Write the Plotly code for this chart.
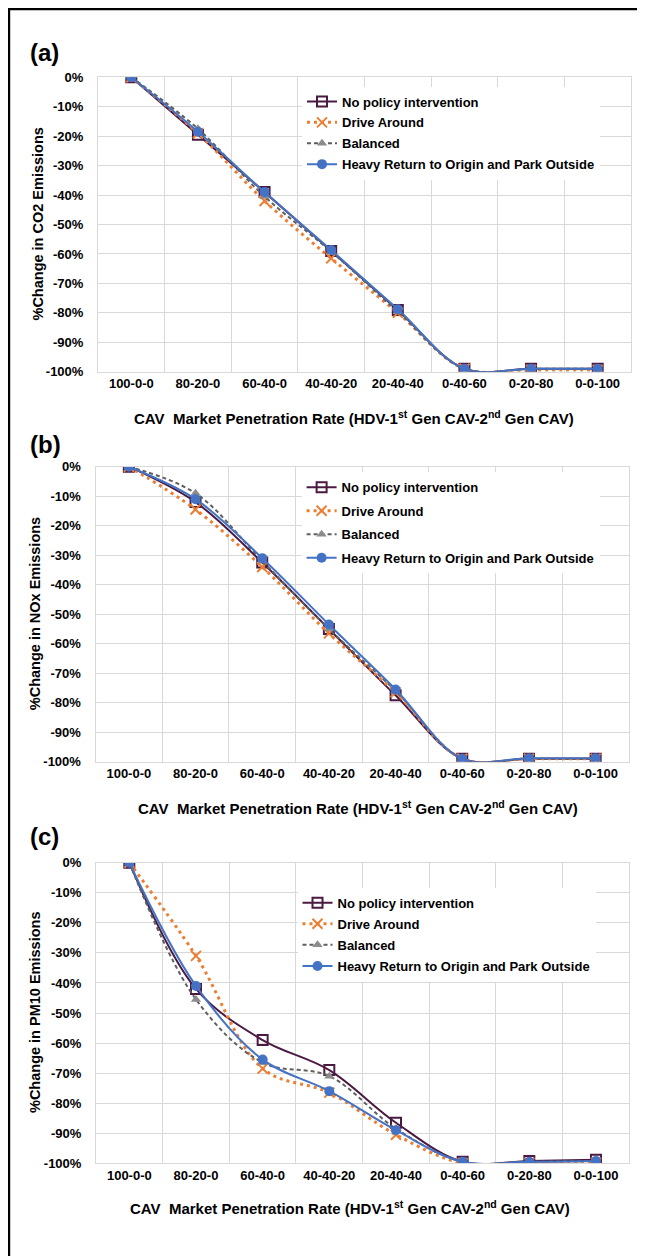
import plotly.graph_objects as go

# The page body has an 8px default margin; screen pixel positions are converted
# to figure coordinates with that offset. The figure runs to the window edges.
OFF = 8
W, H = 645 - OFF, 1256 - OFF
FONT = "Liberation Sans, Arial, sans-serif"

categories = ["100-0-0", "80-20-0", "60-40-0", "40-40-20", "20-40-40", "0-40-60", "0-20-80", "0-0-100"]
series_names = ["No policy intervention", "Drive Around", "Balanced", "Heavy Return to Origin and Park Outside"]

# (a) CO2
co2_no_policy = [0, -19.5, -39, -59, -79, -99, -99, -99]
co2_drive_around = [0, -19, -42, -61.5, -80, -99, -99.4, -99.4]
co2_balanced = [0, -17.5, -40.5, -59.2, -79.6, -99, -99, -99]
co2_heavy_return = [0, -18.5, -39, -58.7, -78.8, -99, -99, -99]

# (b) NOx
nox_no_policy = [0, -12, -32.5, -55, -77.5, -99, -99, -99]
nox_drive_around = [0, -14.5, -34, -56.5, -76.5, -99, -99, -99]
nox_balanced = [0, -9, -32, -55, -76, -99, -99, -99]
nox_heavy_return = [0, -11, -31, -53.5, -75.5, -99, -98.8, -98.8]

# (c) PM10
pm10_no_policy = [0, -42, -59, -69, -86.5, -99.5, -99.2, -98.8]
pm10_drive_around = [0, -31, -68.5, -76.5, -90.5, -100, -99.8, -99.8]
pm10_balanced = [0, -45.5, -66.5, -71, -88.5, -99.5, -99.5, -99.2]
pm10_heavy_return = [0, -41, -65.5, -76, -89, -99.5, -99.5, -99.2]

y_tick_vals = [0, -10, -20, -30, -40, -50, -60, -70, -80, -90, -100]
y_tick_text = ["0%", "-10%", "-20%", "-30%", "-40%", "-50%", "-60%", "-70%", "-80%", "-90%", "-100%"]

panel_labels = ["(a)", "(b)", "(c)"]
y_titles = ["%Change in CO2 Emissions", "%Change in NOx Emissions", "%Change in PM10 Emissions"]
x_title = "CAV\u00a0\u00a0Market Penetration Rate (HDV-1<sup>st</sup> Gen CAV-2<sup>nd</sup> Gen CAV)"

panels = [
    [co2_no_policy, co2_drive_around, co2_balanced, co2_heavy_return],
    [nox_no_policy, nox_drive_around, nox_balanced, nox_heavy_return],
    [pm10_no_policy, pm10_drive_around, pm10_balanced, pm10_heavy_return],
]

styles = [
    dict(line=dict(color="#4B1A42", width=2), marker=dict(symbol="square-open", size=10, color="#4B1A42", line=dict(width=2))),
    dict(line=dict(color="#ED7D31", width=3, dash="3px,4px"), marker=dict(symbol="x-thin", size=10, color="#ED7D31", line=dict(width=2, color="#ED7D31"))),
    dict(line=dict(color="#5F5F5F", width=2, dash="4px,3px"), marker=dict(symbol="triangle-up", size=9, color="#8C8C8C")),
    dict(line=dict(color="#4472C4", width=2), marker=dict(symbol="circle", size=10, color="#4472C4")),
]


def fx(px):
    return (px - OFF) / W


def fy(py):
    return 1 - (py - OFF) / H


# screen-pixel geometry: (left, right, top, bottom) of each plot area
geo = [(98, 631, 77.3, 371.7), (95.5, 629, 466.7, 761.7), (96, 629.3, 862.7, 1163.3)]
legend_pos = [(302, 86.5, 1), (301.6, 472.3, 3.6), (297.5, 887.7, 1.2)]
ytitle_x = [37, 35, 35]
xtitle_pos = [(354, 417.7), (358, 807.7), (350, 1207.7)]
label_pos = [(28, 53), (28, 444), (28, 836)]

fig = go.Figure()
legend_keys = ["legend", "legend2", "legend3"]

for p in range(3):
    xa = "x" if p == 0 else f"x{p+1}"
    ya = "y" if p == 0 else f"y{p+1}"
    for s in range(4):
        st = styles[s]
        fig.add_trace(go.Scatter(
            x=categories, y=panels[p][s], name=series_names[s],
            mode="lines+markers", line=dict(shape="spline", smoothing=1, **st["line"]),
            marker=st["marker"], xaxis=xa, yaxis=ya,
            legend=legend_keys[p], legendgroup=f"g{p}{s}",
        ))

layout = dict(
    width=W, height=H, margin=dict(l=0, r=0, t=0, b=0, pad=0, autoexpand=False),
    paper_bgcolor="white", plot_bgcolor="white",
    font=dict(family=FONT, size=13, color="black"),
    showlegend=True,
)

annotations = []
shapes = []
for p in range(3):
    l, r, t, b = geo[p]
    xk = "xaxis" if p == 0 else f"xaxis{p+1}"
    yk = "yaxis" if p == 0 else f"yaxis{p+1}"
    ya = "y" if p == 0 else f"y{p+1}"
    xa = "x" if p == 0 else f"x{p+1}"
    layout[xk] = dict(
        domain=[fx(l), fx(r)], anchor=ya, type="category", categoryorder="array",
        categoryarray=categories, range=[-0.5, 7.5], tickson="boundaries", automargin=False,
        tickangle=0, showgrid=True, gridcolor="#D9D9D9", gridwidth=1,
        ticks="outside", ticklen=9, tickcolor="rgba(0,0,0,0)",
        tickfont=dict(family=FONT, size=13, weight="bold", color="black"),
        showline=True, linecolor="#D9D9D9", linewidth=1, mirror=True, fixedrange=True,
    )
    layout[yk] = dict(
        domain=[fy(b), fy(t)], anchor=xa, range=[-100, 0], automargin=False,
        tickvals=y_tick_vals, ticktext=y_tick_text,
        showgrid=True, gridcolor="#D9D9D9", gridwidth=1, zeroline=False,
        ticks="outside", ticklen=11, tickcolor="rgba(0,0,0,0)",
        tickfont=dict(family=FONT, size=13, weight="bold", color="black"),
        showline=True, linecolor="#D9D9D9", linewidth=1, mirror=True, fixedrange=True,
    )
    lx, ly, gap = legend_pos[p]
    layout[legend_keys[p]] = dict(
        x=fx(lx), y=fy(ly), xanchor="left", yanchor="top",
        bgcolor="white", borderwidth=0, traceorder="grouped", tracegroupgap=gap,
        font=dict(family=FONT, size=13, weight="bold", color="black"),
    )
    annotations.append(dict(
        text=y_titles[p], x=fx(ytitle_x[p]), y=fy((t + b) / 2), xref="paper", yref="paper",
        textangle=-90, showarrow=False, xanchor="center", yanchor="middle",
        font=dict(family=FONT, size=14.5, weight="bold", color="black"),
    ))
    annotations.append(dict(
        text=x_title, x=fx(xtitle_pos[p][0]), y=fy(xtitle_pos[p][1]), xref="paper", yref="paper",
        showarrow=False, xanchor="center", yanchor="middle",
        font=dict(family=FONT, size=15, weight="bold", color="black"),
    ))
    annotations.append(dict(
        text=panel_labels[p], x=fx(label_pos[p][0]), y=fy(label_pos[p][1]), xref="paper", yref="paper",
        showarrow=False, xanchor="left", yanchor="middle",
        font=dict(family=FONT, size=24, weight="bold", color="black"),
    ))

# outer frame (top and left edges)
shapes.append(dict(type="line", xref="paper", yref="paper", x0=fx(8.7), x1=1, y0=fy(8.7), y1=fy(8.7),
                   line=dict(color="black", width=3)))
shapes.append(dict(type="line", xref="paper", yref="paper", x0=fx(8.7), x1=fx(8.7), y0=0, y1=fy(7.2),
                   line=dict(color="black", width=3)))

layout["annotations"] = annotations
layout["shapes"] = shapes
fig.update_layout(**layout)

fig.write_html("out.html")
